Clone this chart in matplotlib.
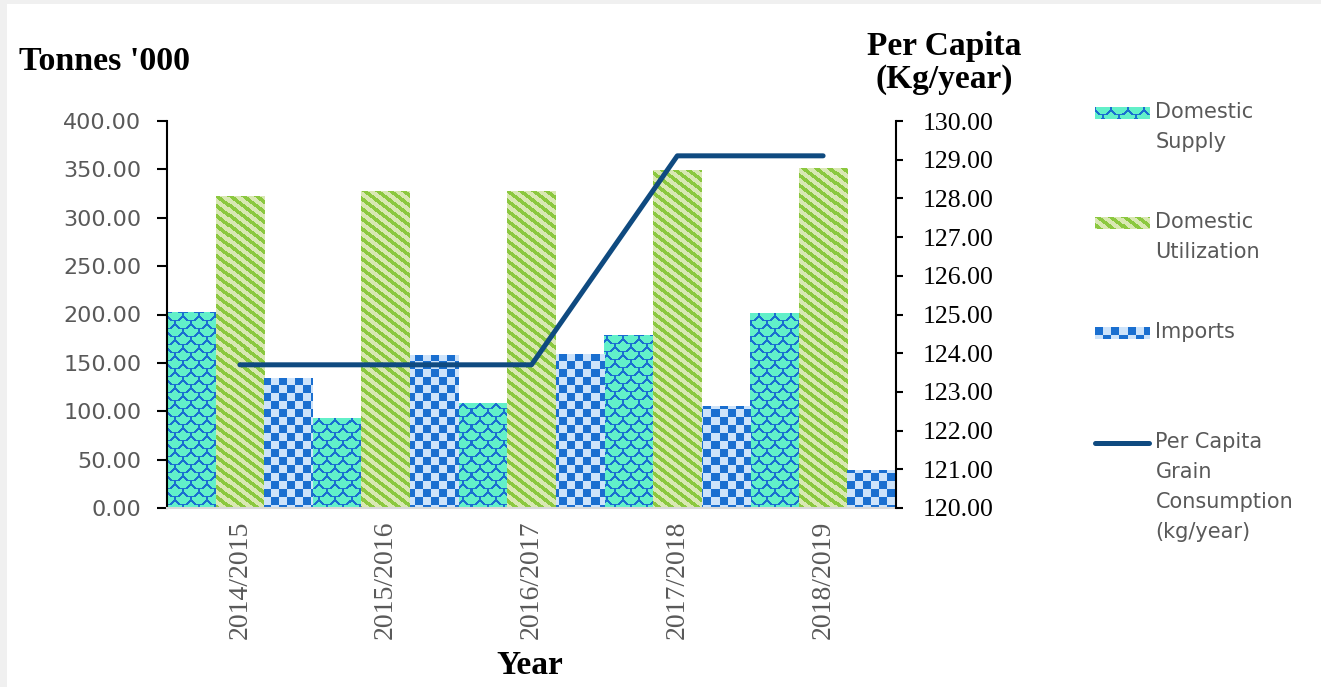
import numpy as np
import matplotlib.pyplot as plt
from matplotlib.colors import to_rgb
from matplotlib.patches import Patch, Rectangle
from matplotlib.lines import Line2D
from matplotlib.image import BboxImage
from matplotlib.legend_handler import HandlerBase

years = ['2014/2015', '2015/2016', '2016/2017', '2017/2018', '2018/2019']
dom_supply = [202.5, 93.0, 108.5, 179.0, 201.5]
dom_util = [322.5, 327.5, 327.5, 349.0, 351.0]
imports = [134.0, 158.0, 159.0, 105.0, 39.0]
per_capita = [123.7, 123.7, 123.7, 129.1, 129.1]

W, H, DPI = 13.21, 6.87, 100
BLUE = '#1A6FD0'
GRAY = '#595959'
LINE_C = '#0F4A80'
SANS = 'DejaVu Sans'
SERIF = 'Liberation Serif'
LEG_FS = 15
LEG_LS = 1.63
LINE_K = 0.884   # baseline pitch per (fontsize * linespacing)


def texture(kind, w, h):
    yy, xx = np.mgrid[0:h, 0:w]
    img = np.zeros((h, w, 3))
    if kind == 'checker':
        c = 8
        m = ((xx // c) + (yy // c)) % 2 == 0
        img[:] = to_rgb('#CDE3FA')
        img[m] = to_rgb(BLUE)
    elif kind == 'stripes':
        m = ((xx - 1.3 * yy) % 13) < 6
        img[:] = to_rgb('#D9E8B3')
        img[m] = to_rgb('#8BC83F')
    else:
        pw, ph = 16, 8
        row = yy // ph
        xs = xx + (row % 2) * (pw // 2)
        lx = xs % pw - pw / 2 + 0.5
        ly = yy % ph + 0.5
        r = np.hypot(lx, ly)
        m = np.abs(r - pw / 2) < 0.9
        img[:] = to_rgb('#62F0C9')
        img[m] = to_rgb(BLUE)
    return img


def top_shift(lines, fontsize):
    # legend centres handles on the text block; move them up to the first line
    return (lines - 1) / 2 * fontsize * LEG_LS * LINE_K


class TexHandler(HandlerBase):
    def __init__(self, kind, lines):
        super().__init__()
        self.kind, self.lines = kind, lines

    def create_artists(self, legend, orig_handle, xdescent, ydescent,
                       width, height, fontsize, trans):
        shift = top_shift(self.lines, fontsize)
        rect = Rectangle((-xdescent, -ydescent + shift), width, height,
                         transform=trans, facecolor='none', edgecolor='none')
        pw = int(round(width * DPI / 72))
        ph = int(round(height * DPI / 72))
        im = BboxImage(lambda r: rect.get_window_extent(r), interpolation='nearest')
        im.set_data(texture(self.kind, pw, ph))
        return [rect, im]


class LineHandler(HandlerBase):
    def __init__(self, lines):
        super().__init__()
        self.lines = lines

    def create_artists(self, legend, orig_handle, xdescent, ydescent,
                       width, height, fontsize, trans):
        y = -ydescent + height / 2 + top_shift(self.lines, fontsize)
        ln = Line2D([-xdescent, -xdescent + width], [y, y], color=LINE_C,
                    lw=3.6, solid_capstyle='round', transform=trans)
        return [ln]


fig = plt.figure(figsize=(W, H), dpi=DPI)
fig.patch.set_facecolor('#F0F0F0')
fig.add_artist(Rectangle((7 / 1321, 0), 1, 1 - 4 / 687, transform=fig.transFigure,
                         facecolor='white', edgecolor='none', zorder=-10))

ax = fig.add_axes([167 / 1321, 1 - 508 / 687, 729 / 1321, 387 / 687])
ax.set_facecolor('none')
x = np.arange(len(years))
bw = 1 / 3
ax.set_xlim(-0.5, len(years) - 0.5)
ax.set_ylim(0, 400)
ax.set_autoscale_on(False)

aw, ah = 729, 387
series = [(dom_supply, -bw, 'scales'), (dom_util, 0, 'stripes'), (imports, bw, 'checker')]
for vals, off, kind in series:
    bars = ax.bar(x + off, vals, bw, color='none', linewidth=0, zorder=1)
    tex = texture(kind, aw, ah)
    for b in bars:
        im = ax.imshow(tex, extent=(-0.5, len(years) - 0.5, 0, 400), aspect='auto',
                       interpolation='nearest', origin='upper', zorder=2)
        im.set_clip_path(b)

ax.set_yticks(np.arange(0, 401, 50))
ax.set_yticklabels([f'{v:.2f}' for v in np.arange(0, 401, 50)], family=SANS,
                   fontsize=16, color=GRAY)
ax.set_xticks(x)
ax.set_xticklabels(years, rotation=90, family=SERIF, fontsize=20, color=GRAY)
ax.tick_params(axis='y', length=7, width=1.5, pad=11.5, color='black')
ax.tick_params(axis='x', length=0, pad=9)
for s in ['top', 'right']:
    ax.spines[s].set_visible(False)
ax.spines['left'].set_linewidth(1.5)
ax.spines['bottom'].set_color('#D9D9D9')
ax.spines['bottom'].set_linewidth(1.5)

ax2 = ax.twinx()
ax2.plot(x, per_capita, color=LINE_C, lw=3.6, solid_capstyle='round', zorder=5)
ax2.set_ylim(120, 130)
ax2.set_yticks(np.arange(120, 131, 1))
ax2.set_yticklabels([f'{v:.2f}' for v in np.arange(120, 131, 1)], family=SERIF,
                    fontsize=18.5, color='black')
ax2.tick_params(axis='y', length=5, width=1.5, pad=14, color='black')
for s in ['top', 'left', 'bottom']:
    ax2.spines[s].set_visible(False)
ax2.spines['right'].set_linewidth(1.5)

fig.text(104 / 1321, 1 - 62 / 687, "Tonnes '000", family=SERIF, weight='bold',
         fontsize=24.5, va='center', ha='center')
fig.text(944 / 1321, 1 - 63 / 687, 'Per Capita\n(Kg/year)', family=SERIF, weight='bold',
         fontsize=24, va='center', ha='center', linespacing=1.1)
fig.text(530 / 1321, 1 - 665 / 687, 'Year', family=SERIF, weight='bold',
         fontsize=24, va='center', ha='center')

h1, h2, h3, h4 = Patch(), Patch(), Patch(), Line2D([], [])
labels = ['Domestic\nSupply', 'Domestic\nUtilization', 'Imports\n ',
          'Per Capita\nGrain\nConsumption\n(kg/year)']
leg = fig.legend([h1, h2, h3, h4], labels, loc='upper left',
                 bbox_to_anchor=(1095 / 1321, 1 - 102 / 687), frameon=False,
                 handlelength=2.6, handleheight=0.5, handletextpad=0.3,
                 labelspacing=2.88, borderaxespad=0, borderpad=0,
                 prop={'family': SANS, 'size': LEG_FS},
                 handler_map={h1: TexHandler('scales', 2), h2: TexHandler('stripes', 2),
                              h3: TexHandler('checker', 2), h4: LineHandler(4)})
for t in leg.get_texts():
    t.set_color(GRAY)
    t.set_linespacing(LEG_LS)

fig.savefig('out.png', dpi=DPI)
